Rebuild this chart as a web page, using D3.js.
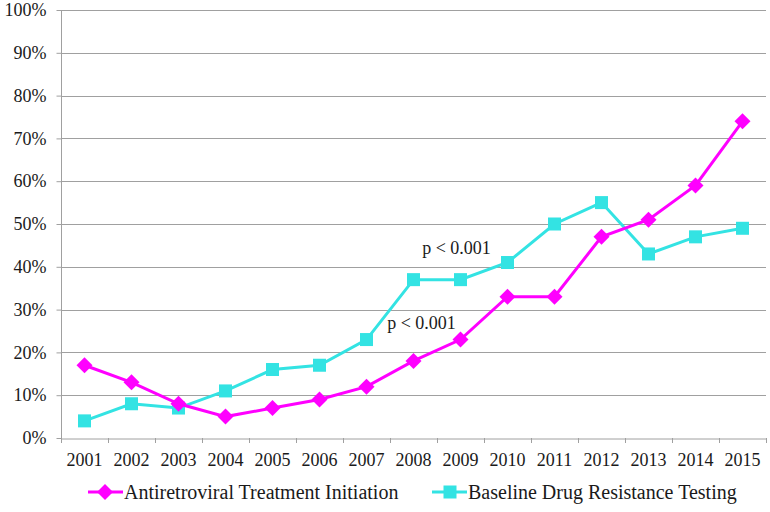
<!DOCTYPE html>
<html><head><meta charset="utf-8">
<script src="https://cdn.jsdelivr.net/npm/d3@7"></script>
<style>body{margin:0;background:#fff}svg{display:block}text{font-family:'Liberation Serif','Times New Roman',serif}</style>
</head><body><svg id="c" width="770" height="512"></svg>
<script>
const years = ["2001","2002","2003","2004","2005","2006","2007","2008","2009","2010","2011","2012","2013","2014","2015"];
const artInitiation = [17,13,8,5,7,9,12,18,23,33,33,47,51,59,74];
const resistanceTesting = [4,8,7,11,16,17,23,37,37,41,50,55,43,47,49];
const yTicks = [0,10,20,30,40,50,60,70,80,90,100];
const seriesNames = ["Antiretroviral Treatment Initiation","Baseline Drug Resistance Testing"];
const annotations = [{label:"p < 0.001", year:"2009", value:43},{label:"p < 0.001", year:"2008", value:25.5}];

const svg = d3.select("#c");
const font = "'Liberation Serif','Times New Roman',serif";
const L=61, R=766, T=10, B=438;
const x = d3.scaleBand().domain(years).range([L,R]);
const y = d3.scaleLinear().domain([0,100]).range([B,T]);
const MAG="#FF00FF", CY="#33E3E3", GR="#a0a0a0", TXT="#1a1a1a";

// gridlines
svg.append("g").selectAll("line").data(yTicks.filter(d=>d>0)).join("line")
  .attr("x1",L).attr("x2",R).attr("y1",d=>Math.round(y(d))+0.5).attr("y2",d=>Math.round(y(d))+0.5)
  .attr("stroke",GR).attr("stroke-width",1);

// y axis
const ya = svg.append("g").attr("transform",`translate(${L+0.5},0)`)
  .call(d3.axisLeft(y).tickValues(yTicks).tickFormat(d=>d+"%").tickSize(5).tickPadding(10));
ya.select(".domain").attr("stroke",GR).attr("d",`M0,${B}V${T}`);
ya.selectAll(".tick line").attr("stroke",GR);
ya.selectAll("text").style("font-family",font).attr("font-size",18).attr("fill",TXT);

// x axis
const xa = svg.append("g").attr("transform",`translate(0,${B+0.5})`)
  .call(d3.axisBottom(x).tickSize(0).tickPadding(15));
xa.select(".domain").attr("stroke",GR);
xa.selectAll("text").style("font-family",font).attr("font-size",18).attr("fill",TXT);
svg.append("g").selectAll("line").data(years.concat(["end"])).join("line")
  .attr("x1",(d,i)=>Math.round(L+i*x.step())+0.5).attr("x2",(d,i)=>Math.round(L+i*x.step())+0.5)
  .attr("y1",B).attr("y2",B+5).attr("stroke",GR);

const cx = d=>x(d)+x.bandwidth()/2;
const line = d3.line().x((d,i)=>cx(years[i])).y(d=>y(d));

function diamond(g,px,py,s){g.append("path").attr("d",`M${px},${py-s}L${px+s},${py}L${px},${py+s}L${px-s},${py}Z`).attr("fill",MAG);}
function square(g,px,py,s){g.append("rect").attr("x",px-s).attr("y",py-s).attr("width",2*s).attr("height",2*s).attr("fill",CY);}

svg.append("path").datum(resistanceTesting).attr("d",line).attr("fill","none").attr("stroke",CY).attr("stroke-width",3);
const gs = svg.append("g");
resistanceTesting.forEach((v,i)=>square(gs,cx(years[i]),y(v),6.5));

svg.append("path").datum(artInitiation).attr("d",line).attr("fill","none").attr("stroke",MAG).attr("stroke-width",3);
const gd = svg.append("g");
artInitiation.forEach((v,i)=>diamond(gd,cx(years[i]),y(v),8));

// annotations
svg.selectAll(".ann").data(annotations).join("text")
  .attr("x",(d,i)=>cx(d.year)+(i===0?-4:8)).attr("y",d=>y(d.value))
  .attr("text-anchor","middle")
  .style("font-family",font).attr("font-size",18).attr("fill",TXT).text(d=>d.label);

// legend
const lg = svg.append("g");
const LY = 492;
lg.append("line").attr("x1",88).attr("x2",123).attr("y1",LY).attr("y2",LY).attr("stroke",MAG).attr("stroke-width",3);
diamond(lg,105,LY,8);
lg.append("text").attr("x",124).attr("y",LY+7).style("font-family",font).attr("font-size",20).attr("fill",TXT).text(seriesNames[0]);
lg.append("line").attr("x1",432).attr("x2",467).attr("y1",LY).attr("y2",LY).attr("stroke",CY).attr("stroke-width",3);
square(lg,450,LY,6.5);
lg.append("text").attr("x",468).attr("y",LY+7).style("font-family",font).attr("font-size",20).attr("fill",TXT).text(seriesNames[1]);
</script></body></html>
